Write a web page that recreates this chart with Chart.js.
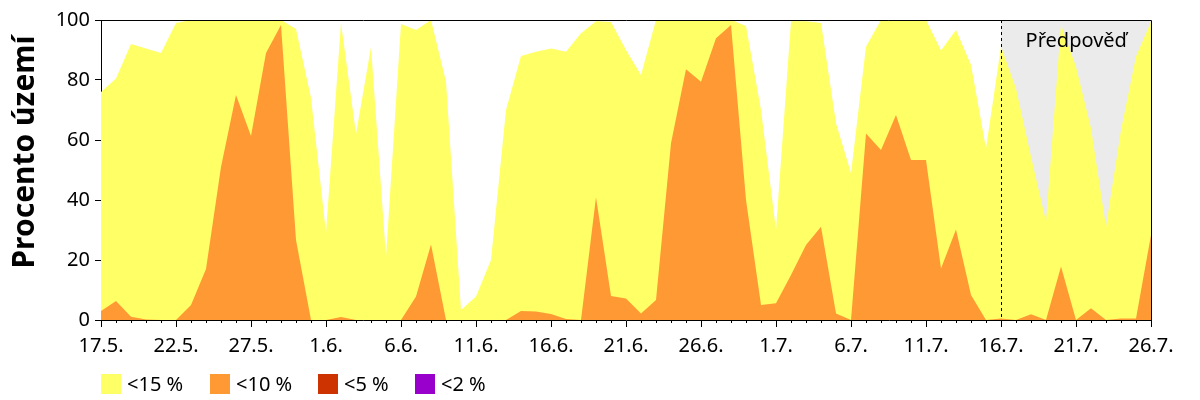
<!DOCTYPE html>
<html>
<head>
<meta charset="utf-8">
<script src="https://cdn.jsdelivr.net/npm/chart.js@4.4.0/dist/chart.umd.min.js"></script>
<style>
  body { margin: 0; background: #fff; }
  #wrap { position: relative; width: 1200px; height: 400px; }
  #legend { position: absolute; left: 0; top: 374px; font: 20px "Noto Sans", sans-serif; color: #000; }
  .item { position: absolute; top: 0; white-space: nowrap; }
  .box { position: absolute; left: 0; top: 0; width: 20px; height: 20px; }
  .lbl { position: absolute; left: 26px; top: -4px; line-height: 28px; }
</style>
</head>
<body>
<div id="wrap">
  <canvas id="soilChart" width="1200" height="400"></canvas>
  <div id="legend"></div>
</div>
<script>
const days = [
  '17.5.', '18.5.', '19.5.', '20.5.', '21.5.', '22.5.', '23.5.', '24.5.', '25.5.', '26.5.',
  '27.5.', '28.5.', '29.5.', '30.5.', '31.5.', '1.6.', '2.6.', '3.6.', '4.6.', '5.6.',
  '6.6.', '7.6.', '8.6.', '9.6.', '10.6.', '11.6.', '12.6.', '13.6.', '14.6.', '15.6.',
  '16.6.', '17.6.', '18.6.', '19.6.', '20.6.', '21.6.', '22.6.', '23.6.', '24.6.', '25.6.',
  '26.6.', '27.6.', '28.6.', '29.6.', '30.6.', '1.7.', '2.7.', '3.7.', '4.7.', '5.7.',
  '6.7.', '7.7.', '8.7.', '9.7.', '10.7.', '11.7.', '12.7.', '13.7.', '14.7.', '15.7.',
  '16.7.', '17.7.', '18.7.', '19.7.', '20.7.', '21.7.', '22.7.', '23.7.', '24.7.', '25.7.',
  '26.7.'
];

// % uzemi pod 15 % vlhkosti
const below15 = [
  76, 80.5, 92, 90.5, 89, 99, 100, 100, 100, 100,
  100, 100, 100, 97, 74, 29, 99, 62, 91, 21,
  98.7, 96.7, 100, 79.4, 3.3, 7.8, 20, 70, 88, 89.4,
  90.5, 89.4, 95.6, 99.6, 99.3, 90, 81.7, 100, 100, 100,
  100, 100, 100, 98, 70, 30, 99.6, 99.6, 99, 65.6,
  48.9, 91.1, 100, 100, 100, 100, 89.8, 96.7, 85, 57.2,
  91.1, 77.2, 54.4, 32.8, 98.3, 84.4, 63.9, 31.1, 63.3, 87.8,
  99.4
];

// % uzemi pod 10 % vlhkosti
const below10 = [
  3, 6.3, 1.1, 0.2, 0, 0, 5, 17, 51, 75,
  61.3, 89, 98.3, 26.7, 0, 0, 1, 0, 0, 0,
  0, 7.8, 25.2, 0, 0, 0, 0, 0, 3, 2.8,
  2, 0.3, 0, 40.9, 8, 7.2, 2.2, 6.7, 58.9, 83.6,
  79.4, 93.9, 98.3, 40, 5, 5.6, 15, 25, 31.1, 2.2,
  0, 62.2, 56.7, 68.3, 53.3, 53.3, 17.2, 30.2, 8.3, 0,
  0.5, 0, 1.9, 0, 17.8, 0, 3.9, 0, 0.5, 0.5,
  28.3
];

const forecastStart = '16.7.';
const yTicks = [0, 20, 40, 60, 80, 100];

const legendItems = [
  { text: '<15 %', color: '#FFFF66', x: 101 },
  { text: '<10 %', color: '#FF9933', x: 210 },
  { text: '<5 %', color: '#CC3300', x: 318 },
  { text: '<2 %', color: '#9900CC', x: 415 }
];

const legend = document.getElementById('legend');
legendItems.forEach(function (it) {
  const d = document.createElement('div');
  d.className = 'item';
  d.style.left = it.x + 'px';
  d.innerHTML = '<span class="box" style="background:' + it.color + '"></span><span class="lbl">' + it.text + '</span>';
  legend.appendChild(d);
});

const fontFam = '"Noto Sans", sans-serif';

// sedy podklad predpovedi, carkovana cara, ramecek, drobne ticky, titulek osy y
const extras = {
  id: 'extras',
  beforeDatasetsDraw(chart) {
    const { ctx, chartArea: a, scales: { x } } = chart;
    const fx = x.getPixelForValue(days.indexOf(forecastStart));
    ctx.save();
    ctx.fillStyle = '#EBEBEB';
    ctx.fillRect(fx, a.top, a.right - fx, a.bottom - a.top);
    ctx.restore();
  },
  afterDatasetsDraw(chart) {
    const { ctx, chartArea: a, scales: { x } } = chart;
    const fx = Math.round(x.getPixelForValue(days.indexOf(forecastStart))) + 0.5;
    ctx.save();
    ctx.strokeStyle = '#000';
    ctx.lineWidth = 1;
    ctx.setLineDash([3, 3]);
    ctx.beginPath();
    ctx.moveTo(fx, a.top);
    ctx.lineTo(fx, a.bottom);
    ctx.stroke();
    ctx.setLineDash([]);
    ctx.fillStyle = '#000';
    ctx.font = '20px ' + fontFam;
    ctx.textAlign = 'center';
    ctx.textBaseline = 'alphabetic';
    ctx.fillText('Předpověď', (fx + a.right) / 2, 47);
    ctx.restore();
  },
  afterDraw(chart) {
    const { ctx, chartArea: a, scales: { x } } = chart;
    ctx.save();
    ctx.strokeStyle = '#000';
    ctx.lineWidth = 1;
    ctx.beginPath();
    ctx.moveTo(a.left, a.top + 0.5);
    ctx.lineTo(a.right + 0.5, a.top + 0.5);
    ctx.lineTo(a.right + 0.5, a.bottom);
    ctx.stroke();
    ctx.beginPath();
    for (let i = 0; i < days.length; i++) {
      if (i % 5 === 0) continue;
      const px = Math.round(x.getPixelForValue(i)) + 0.5;
      ctx.moveTo(px, a.bottom);
      ctx.lineTo(px, a.bottom + 3);
    }
    ctx.stroke();
    ctx.fillStyle = '#000';
    ctx.font = 'bold 30px ' + fontFam;
    ctx.translate(34, (a.top + a.bottom) / 2 - 18);
    ctx.rotate(-Math.PI / 2);
    ctx.textAlign = 'center';
    ctx.textBaseline = 'alphabetic';
    ctx.fillText('Procento území', 0, 0);
    ctx.restore();
  }
};

const ctx = document.getElementById('soilChart').getContext('2d');
const soilChart = new Chart(ctx, {
  type: 'line',
  data: {
    labels: days,
    datasets: [
      {
        label: '<15 %',
        data: below15,
        backgroundColor: '#FFFF66',
        borderWidth: 0,
        pointRadius: 0,
        tension: 0,
        fill: 'origin',
        order: 2
      },
      {
        label: '<10 %',
        data: below10,
        backgroundColor: '#FF9933',
        borderWidth: 0,
        pointRadius: 0,
        tension: 0,
        fill: 'origin',
        order: 1
      }
    ]
  },
  options: {
    responsive: false,
    maintainAspectRatio: false,
    animation: false,
    layout: { padding: { top: 20, right: 49, left: 0, bottom: 0 } },
    plugins: {
      legend: { display: false },
      tooltip: { enabled: false }
    },
    scales: {
      x: {
        type: 'category',
        offset: false,
        afterFit: function (s) { s.height = 80; },
        border: { display: true, color: '#000', width: 1 },
        grid: {
          drawOnChartArea: false,
          tickLength: 7,
          tickColor: function (c) { return c.index % 5 === 0 ? '#000' : 'rgba(0,0,0,0)'; }
        },
        ticks: {
          autoSkip: false,
          maxRotation: 0,
          padding: 7,
          color: '#000',
          font: { family: fontFam, size: 20 },
          callback: function (v, i) { return i % 5 === 0 ? days[i] : ''; }
        }
      },
      y: {
        min: 0,
        max: 100,
        afterFit: function (s) { s.width = 101; },
        afterBuildTicks: function (s) { s.ticks = yTicks.map(function (v) { return { value: v }; }); },
        border: { display: true, color: '#000', width: 1 },
        grid: { drawOnChartArea: false, tickLength: 6, tickColor: '#000' },
        ticks: {
          padding: 5,
          color: '#000',
          font: { family: fontFam, size: 20 }
        }
      }
    }
  },
  plugins: [extras]
});
</script>
</body>
</html>
